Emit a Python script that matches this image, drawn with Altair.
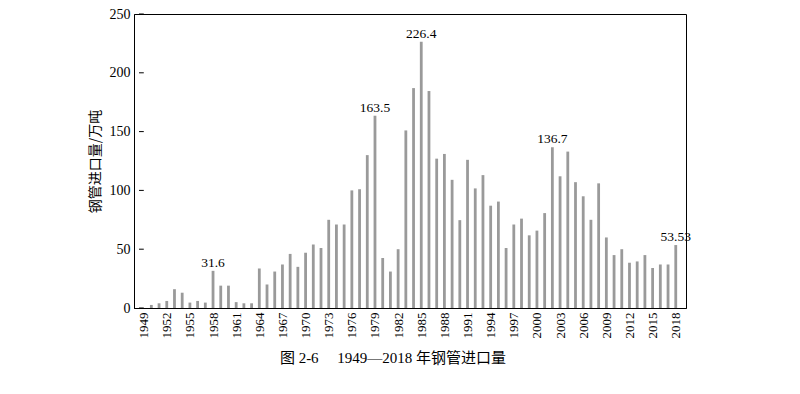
import altair as alt
import pandas as pd

years = list(range(1949, 2019))
values = [
    0, 2.6, 4, 6, 16, 13, 4.6, 6, 4.6, 31.6,
    19, 19, 5, 4, 4, 33.6, 20, 31, 37, 46,
    35, 47, 54, 51, 75, 71, 71, 100, 101, 130,
    163.5, 42.5, 31, 50, 151, 187, 226.4, 184.5, 127, 131,
    109, 74.7, 126, 101.7, 113, 87, 90.5, 51, 71, 76,
    61.8, 65.8, 80.7, 136.7, 112, 133, 107, 95, 75, 106,
    60, 45, 50, 38.5, 39.6, 45, 34, 37, 37, 53.53,
]
label_years = [1958, 1979, 1985, 2002, 2018]
label_texts = ["31.6", "163.5", "226.4", "136.7", "53.53"]
x_ticks = list(range(1949, 2019, 3))
y_ticks = [0, 50, 100, 150, 200, 250]
x_domain = [1948.4, 2018.68]

df = pd.DataFrame({"year": years, "value": values})
lab = pd.DataFrame({
    "year": label_years,
    "value": [values[years.index(y)] for y in label_years],
    "text": label_texts,
})
ticks = pd.DataFrame({"value": y_ticks, "year": [x_domain[0]] * len(y_ticks),
                      "year2": [x_domain[0] + 0.62] * len(y_ticks)})

SERIF = "Liberation Serif, Noto Sans CJK SC"

x = alt.X("year:Q",
          scale=alt.Scale(domain=x_domain, nice=False, zero=False),
          axis=alt.Axis(values=x_ticks, format="d", labelAngle=270, ticks=False,
                        labelAlign="right", labelBaseline="middle", labelPadding=4,
                        labelOverlap=False, labelFlush=False,
                        labelFont=SERIF, labelFontSize=13, labelColor="black",
                        domainColor="black", grid=False, title=None))
y = alt.Y("value:Q",
          scale=alt.Scale(domain=[0, 250], nice=False),
          axis=alt.Axis(values=y_ticks, ticks=False, labelPadding=4,
                        labelOverlap=False, labelFlush=False,
                        labelFont=SERIF, labelFontSize=14, labelColor="black",
                        domainColor="black", grid=False,
                        title="钢管进口量/万吨", titleFont="Noto Sans CJK SC",
                        titleFontSize=14, titleFontWeight="normal", titleColor="black",
                        titlePadding=7))

bars = alt.Chart(df).mark_bar(size=2.8, color="#9a9a9a").encode(x=x, y=y)

texts = alt.Chart(lab).mark_text(dy=-8, font=SERIF, fontSize=13.5, color="black").encode(
    x=x, y=y, text="text:N")

tickmarks = alt.Chart(ticks).mark_rule(color="black", strokeWidth=1).encode(
    x=x, x2="year2:Q", y=y)

chart = alt.layer(bars, texts, tickmarks).properties(
    width=552, height=294,
    autosize=alt.AutoSizeParams(type="none"),
    padding={"left": 126, "top": 6, "right": 100, "bottom": 78},
    title=alt.TitleParams("图 2-6\u3000 1949—2018 年钢管进口量", orient="bottom",
                          anchor="middle", dx=-17, offset=13, font=SERIF,
                          fontSize=15, fontWeight="normal", color="black"),
).configure_view(stroke="black", strokeWidth=1).configure_axis(
    labelOverlap=False, labelFont=SERIF, labelColor="black", domainColor="black"
).configure_axisX(labelFontSize=13).configure_axisY(labelFontSize=14)

chart.save("out.html", embed_options={"renderer": "svg", "actions": False})
